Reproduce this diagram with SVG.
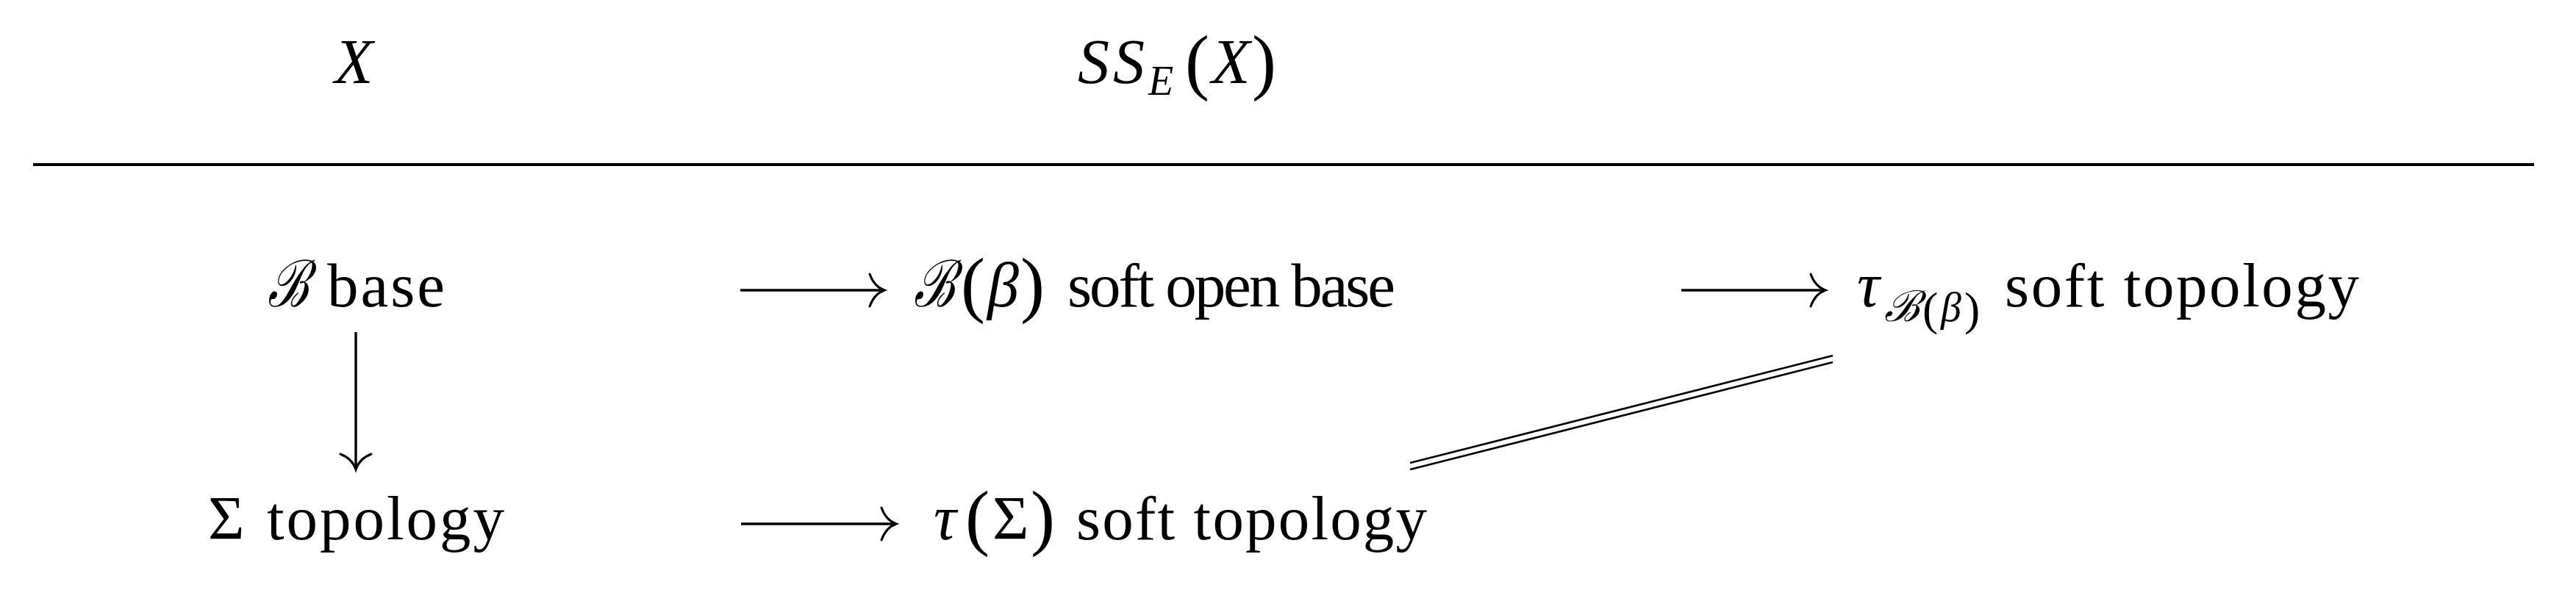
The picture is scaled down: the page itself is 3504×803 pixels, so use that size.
<svg xmlns="http://www.w3.org/2000/svg" width="3504" height="803" viewBox="0 0 3504 803">
<style>
.m{font-family:"Liberation Serif","DejaVu Serif",serif;font-style:italic;font-size:86px;fill:#000}
.r{font-family:"Liberation Serif","DejaVu Serif",serif;font-size:85px;fill:#000}
.p{font-family:"Liberation Serif","DejaVu Serif",serif;font-size:99px;font-style:normal;fill:#000}
.cal{font-family:"DejaVu Serif","Liberation Serif",serif;font-style:italic;font-size:88px;fill:#000}
.sm{font-family:"Liberation Serif","DejaVu Serif",serif;font-style:italic;font-size:56px;fill:#000}
.smc{font-family:"DejaVu Serif","Liberation Serif",serif;font-style:italic;font-size:58px;fill:#000}
.sp{font-family:"Liberation Serif","DejaVu Serif",serif;font-size:64px;font-style:normal;fill:#000}
.ln{stroke:#000;stroke-width:3.4;fill:none}
.hd{stroke:#000;stroke-width:3;fill:none;stroke-linecap:round}
.dbl{stroke:#000;stroke-width:2.6;fill:none}
</style>
<rect x="0" y="0" width="3504" height="803" fill="#fff"/>
<rect x="45" y="222" width="3402" height="4" fill="#000"/>
<g id="n-X"><text class="m" x="455" y="113">X</text></g>
<g id="n-SSE">
<text class="m" x="1466" y="113">S</text>
<text class="m" x="1514" y="113">S</text>
<text class="sm" x="1562" y="129">E</text>
<text class="p" x="1612" y="117">(</text>
<text class="m" x="1648" y="113">X</text>
<text class="p" x="1703" y="117">)</text>
</g>
<g id="n-Bbase">
<text class="cal" transform="translate(364,417) scale(0.5,1)" x="0" y="0" textLength="112" lengthAdjust="spacingAndGlyphs">ℬ</text>
<text class="r" x="445" y="417" textLength="160" lengthAdjust="spacing">base</text>
</g>
<g id="n-Sigma">
<text class="r" x="283" y="734">Σ</text>
<text class="r" x="363" y="734" textLength="323" lengthAdjust="spacing">topology</text>
</g>
<g id="n-Bbeta">
<text class="cal" transform="translate(1243,417) scale(0.5,1)" x="0" y="0" textLength="112" lengthAdjust="spacingAndGlyphs">ℬ</text>
<text class="p" x="1307" y="420">(<tspan class="m" x="1343" y="417">β</tspan><tspan x="1388" y="420">)</tspan></text>
<text class="r" x="1452" y="417" textLength="446" lengthAdjust="spacing">soft open base</text>
</g>
<g id="n-tauSigma">
<text class="m" x="1270" y="734">τ</text>
<text class="p" x="1313" y="737">(</text>
<text class="r" x="1350" y="734">Σ</text>
<text class="p" x="1402" y="737">)</text>
<text class="r" x="1464" y="734" textLength="477" lengthAdjust="spacing">soft topology</text>
</g>
<g id="n-tauB">
<text class="m" x="2526" y="417">τ</text>
<text class="smc" transform="translate(2563,437) scale(0.5,1)" x="0" y="0" textLength="96" lengthAdjust="spacingAndGlyphs">ℬ</text>
<text class="sp" x="2615" y="442">(</text>
<text class="sm" x="2640" y="437">β</text>
<text class="sp" x="2672" y="442">)</text>
<text class="r" x="2727" y="417" textLength="482" lengthAdjust="spacing">soft topology</text>
</g>
<g id="connectors">
<line class="ln" x1="484" y1="452" x2="484" y2="638"/>
<path class="hd" d="M463,618 Q479,624 484,639 Q489,624 505,618"/>
<line class="ln" x1="1007" y1="395" x2="1202" y2="395"/>
<path class="hd" d="M1183,373 Q1189,390 1203,395 Q1189,400 1183,417"/>
<line class="ln" x1="2287" y1="395" x2="2482" y2="395"/>
<path class="hd" d="M2463,373 Q2469,390 2483,395 Q2469,400 2463,417"/>
<line class="ln" x1="1008" y1="713" x2="1218" y2="713"/>
<path class="hd" d="M1199,691 Q1205,708 1219,713 Q1205,718 1199,735"/>
<line class="dbl" x1="1918" y1="630" x2="2493" y2="484"/>
<line class="dbl" x1="1918" y1="639" x2="2493" y2="493"/>
</g>
</svg>
